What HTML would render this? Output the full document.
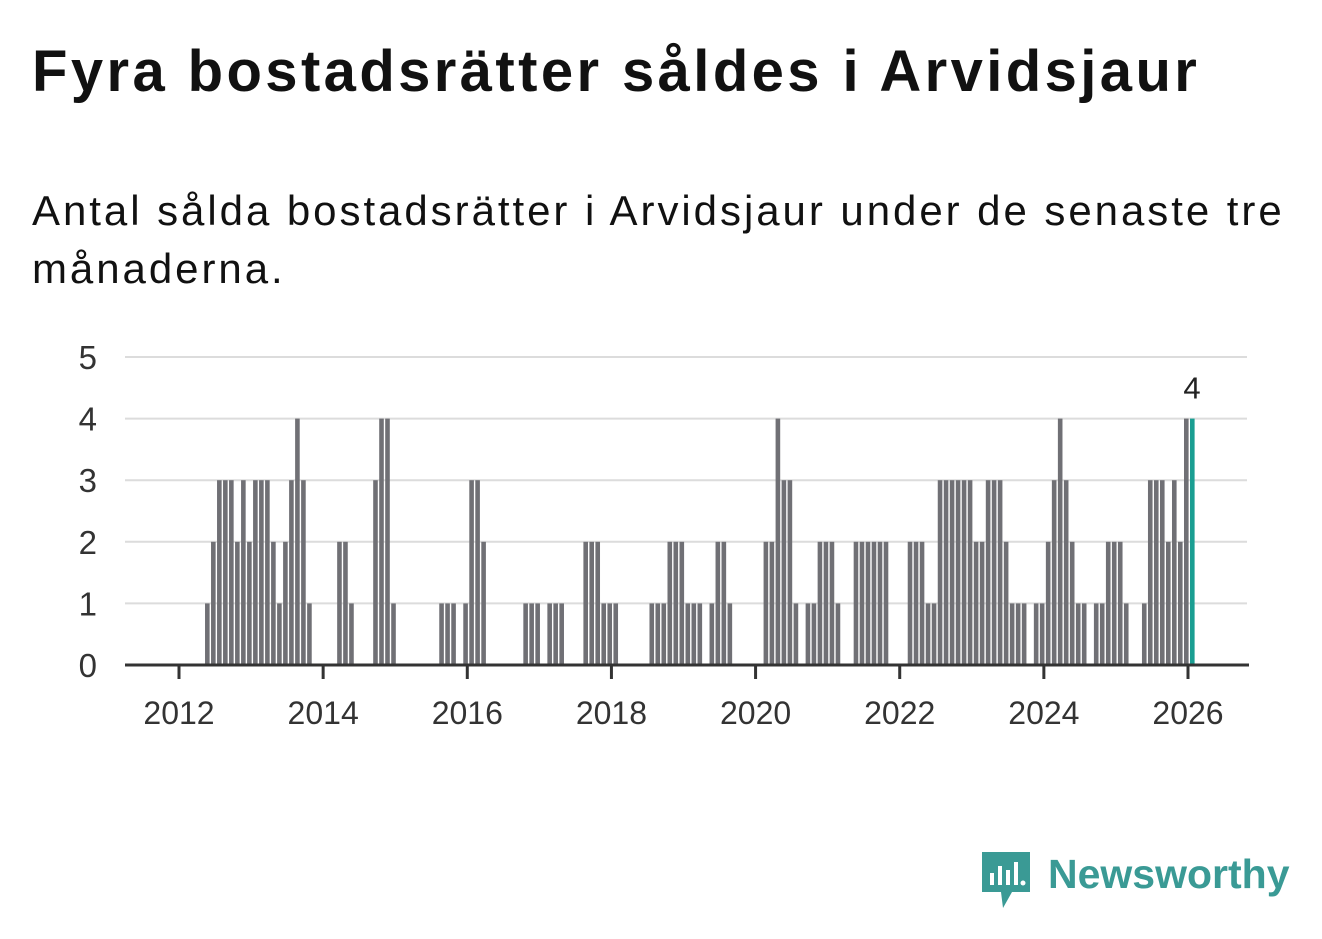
<!DOCTYPE html>
<html><head><meta charset="utf-8"><style>
body{margin:0;background:#fff;width:1322px;height:939px;overflow:hidden;font-family:"Liberation Sans",sans-serif}
#title{position:absolute;left:32px;top:38px;font-size:58px;font-weight:bold;color:#111;margin:0;letter-spacing:3.4px;white-space:nowrap}
#sub{position:absolute;left:32px;top:182px;font-size:42px;color:#111;line-height:58px;width:1290px;letter-spacing:2.95px;white-space:nowrap}
svg{position:absolute;left:0;top:0}
</style></head><body>
<h1 id="title">Fyra bostadsrätter såldes i Arvidsjaur</h1>
<div id="sub">Antal sålda bostadsrätter i Arvidsjaur under de senaste tre<br>månaderna.</div>
<svg id="chart" width="1322" height="939"></svg>
<script>
const monthIndex=[4,5,6,7,8,9,10,11,12,13,14,15,16,17,18,19,20,21,26,27,28,32,33,34,35,43,44,45,47,48,49,50,57,58,59,61,62,63,67,68,69,70,71,72,78,79,80,81,82,83,84,85,86,88,89,90,91,97,98,99,100,101,102,104,105,106,107,108,109,112,113,114,115,116,117,121,122,123,124,125,126,127,128,129,130,131,132,133,134,135,136,137,138,139,140,142,143,144,145,146,147,148,149,150,152,153,154,155,156,157,160,161,162,163,164,165,166,167,168];
const salesValues=[1,2,3,3,3,2,3,2,3,3,3,2,1,2,3,4,3,1,2,2,1,3,4,4,1,1,1,1,1,3,3,2,1,1,1,1,1,1,2,2,2,1,1,1,1,1,1,2,2,2,1,1,1,1,2,2,1,2,2,4,3,3,1,1,1,2,2,2,1,2,2,2,2,2,2,2,2,2,1,1,3,3,3,3,3,3,2,2,3,3,3,2,1,1,1,1,1,2,3,4,3,2,1,1,1,1,2,2,2,1,1,3,3,3,2,3,2,4,4];
const yTicks=[0,1,2,3,4,5];
const xTickLabels=["2012","2014","2016","2018","2020","2022","2024","2026"];
const NS="http://www.w3.org/2000/svg";
const svg=document.getElementById('chart');
const x=m=>179+m*6.006;
const y=v=>665-v*61.6;
function mk(t,a){const e=document.createElementNS(NS,t);for(const k in a)e.setAttribute(k,a[k]);svg.appendChild(e);return e;}
yTicks.forEach(v=>{
 if(v>0){const g=mk('line',{x1:125,x2:1247,y1:y(v),y2:y(v),stroke:'#dcdcdc','stroke-width':2});
 
 }
 const t=mk('text',{x:97,y:y(v)+12,'text-anchor':'end','font-size':33,fill:'#333','font-family':'Liberation Sans, sans-serif'});
 t.textContent=v;
 
 
});
const last=monthIndex.length-1;
monthIndex.forEach((m,i)=>{
 const v=salesValues[i];
 const r=mk('rect',{x:x(m)+2,y:y(v),width:4.6,height:665-y(v),fill:i===last?'#1a9e92':'#707075'});
 
 
});
const lv=mk('text',{x:x(monthIndex[last])+4,y:y(salesValues[last])-20,'text-anchor':'middle','font-size':31,fill:'#222','font-family':'Liberation Sans, sans-serif'});
lv.textContent=salesValues[last];


const ax=mk('line',{x1:125,x2:1249,y1:665,y2:665,stroke:'#333','stroke-width':3});


xTickLabels.forEach((l,i)=>{
 const xx=x(i*24);
 const tk=mk('line',{x1:xx,x2:xx,y1:665,y2:679,stroke:'#333','stroke-width':3});
 
 
 const t=mk('text',{x:xx,y:724,'text-anchor':'middle','font-size':32,fill:'#333','font-family':'Liberation Sans, sans-serif'});
 t.textContent=l;
 
 
});
</script>
<svg width="1322" height="939" style="pointer-events:none">
 <path d="M982 852h48v40h-18l-9 16-2-16h-19z" fill="#3a9a95"/>
 <rect x="990" y="873" width="4" height="12" fill="#fff"/>
 <rect x="998" y="866" width="4" height="19" fill="#fff"/>
 <rect x="1006" y="870" width="4" height="15" fill="#fff"/>
 <rect x="1014" y="862" width="4" height="23" fill="#fff"/>
 <circle cx="1023" cy="883" r="2.5" fill="#fff"/>
 <text x="1048" y="888" font-size="41" font-weight="bold" fill="#3a9a95" font-family="Liberation Sans, sans-serif">Newsworthy</text>
</svg>
</body></html>
